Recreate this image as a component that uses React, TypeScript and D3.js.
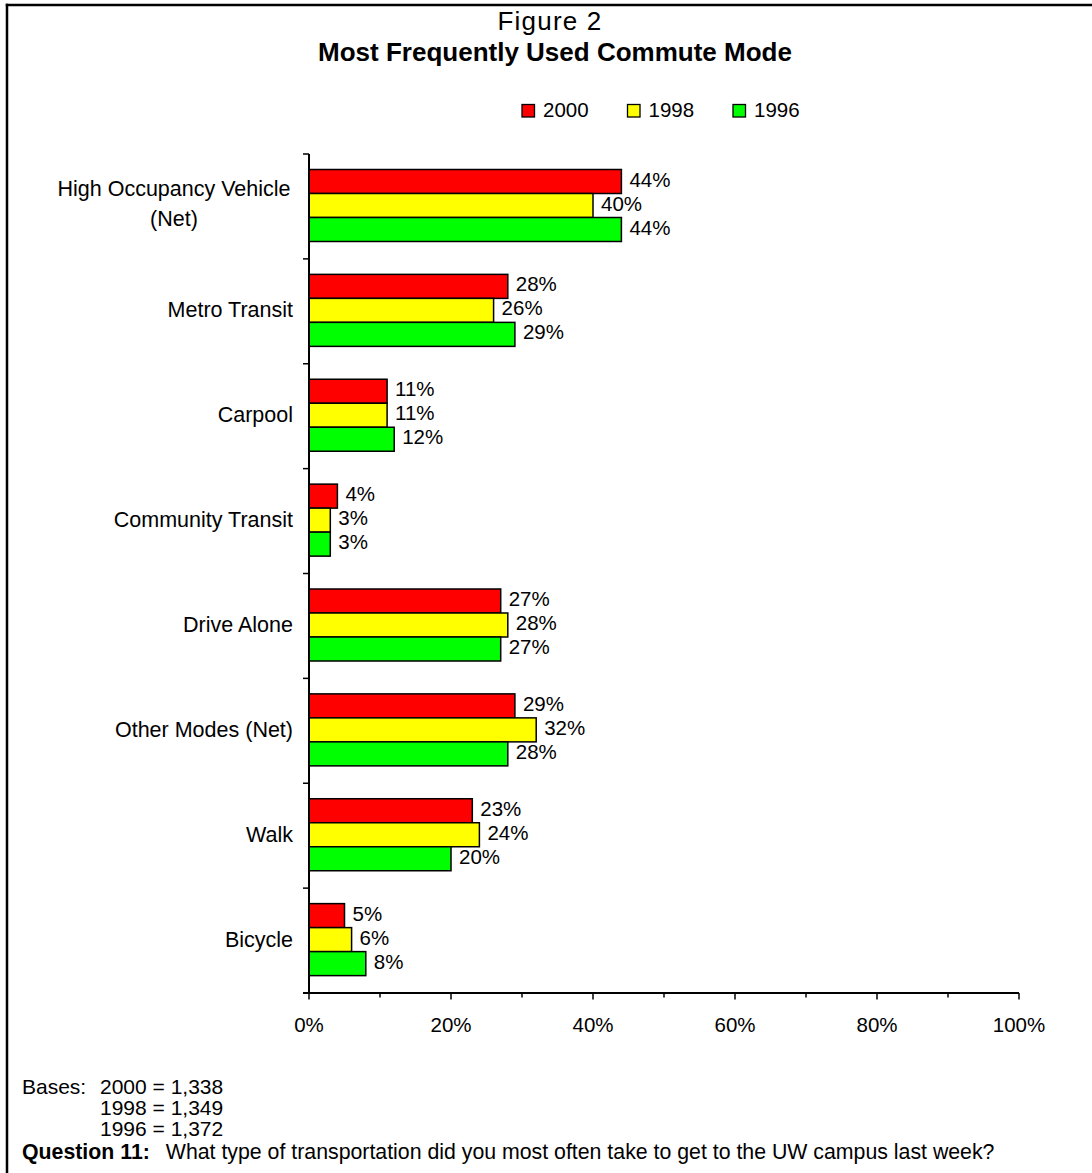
import React from "react";
import * as d3 from "d3";

const categories = [
  "High Occupancy Vehicle\n(Net)",
  "Metro Transit",
  "Carpool",
  "Community Transit",
  "Drive Alone",
  "Other Modes (Net)",
  "Walk",
  "Bicycle",
];
const seriesNames = ["2000", "1998", "1996"];
const values2000 = [44, 28, 11, 4, 27, 29, 23, 5];
const values1998 = [40, 26, 11, 3, 28, 32, 24, 6];
const values1996 = [44, 29, 12, 3, 27, 28, 20, 8];
const seriesColors = ["#ff0000", "#ffff00", "#00ff00"];
const xTicks = [0, 10, 20, 30, 40, 50, 60, 70, 80, 90, 100];
const xLabelTicks = [0, 20, 40, 60, 80, 100];
const baseLines = ["2000 = 1,338", "1998 = 1,349", "1996 = 1,372"];

const FONT = "Arial, 'Liberation Sans', Helvetica, sans-serif";

export default function App() {
  const W = 1092;
  const H = 1173;
  const seriesValues = [values2000, values1998, values1996];
  const x = d3.scaleLinear().domain([0, 100]).range([309, 1019]);
  const y = d3.scaleBand<string>().domain(categories).range([154, 993]).paddingInner(0);
  const groupH = 72;
  const inner = d3.scaleBand<string>().domain(seriesNames).range([0, groupH]).padding(0);
  const groupOffset = 15.5;
  const boundaries = d3.range(categories.length + 1).map((i) => 154 + i * y.step());

  return (
    <svg
      width={W}
      height={H}
      style={{ position: "absolute", left: 0, top: 0, background: "#fff", display: "block" }}
      fontFamily={FONT}
    >
      <rect x={0} y={0} width={W} height={H} fill="#fff" />
      {/* frame (left and top edges visible) */}
      <line x1={7} x2={7} y1={3.75} y2={H} stroke="#000" strokeWidth={2.5} />
      <line x1={5.75} x2={W} y1={5} y2={5} stroke="#000" strokeWidth={2.5} />

      {/* titles */}
      <text x={550} y={30} textAnchor="middle" fontSize={26} letterSpacing={1.2} fill="#000">
        Figure 2
      </text>
      <text x={555} y={61} textAnchor="middle" fontSize={26} fontWeight="bold" fill="#000">
        Most Frequently Used Commute Mode
      </text>

      {/* legend */}
      {seriesNames.map((s, i) => {
        const lx = 522 + i * 105.5;
        return (
          <g key={s}>
            <rect x={lx} y={104.5} width={12.5} height={12.5} fill={seriesColors[i]} stroke="#000" strokeWidth={1.3} />
            <text x={lx + 21} y={117} fontSize={20.5} fill="#000">
              {s}
            </text>
          </g>
        );
      })}

      {/* bars */}
      {categories.map((c, ci) => (
        <g key={c}>
          {seriesNames.map((s, si) => {
            const v = seriesValues[si][ci];
            const by = (y(c) as number) + groupOffset + (inner(s) as number);
            const bh = inner.bandwidth();
            return (
              <g key={s}>
                <rect
                  x={x(0)}
                  y={by}
                  width={x(v) - x(0)}
                  height={bh}
                  fill={seriesColors[si]}
                  stroke="#000"
                  strokeWidth={1.5}
                />
                <text x={x(v) + 8} y={by + bh / 2 + 5} fontSize={20.5} fill="#000">
                  {v + "%"}
                </text>
              </g>
            );
          })}
        </g>
      ))}

      {/* y axis */}
      <line x1={309} x2={309} y1={boundaries[0]} y2={993} stroke="#000" strokeWidth={2} />
      {boundaries.map((b, i) => (
        <line key={i} x1={303} x2={309} y1={b} y2={b} stroke="#000" strokeWidth={1.5} />
      ))}
      {categories.map((c) => {
        const lines = c.split("\n");
        const cy = (y(c) as number) + y.bandwidth() / 2;
        const lh = 30;
        if (lines.length === 1) {
          return (
            <text key={c} x={293} y={cy + 6} textAnchor="end" fontSize={21.5} fill="#000">
              {c}
            </text>
          );
        }
        return (
          <text key={c} x={174} textAnchor="middle" fontSize={21.5} fill="#000">
            {lines.map((l, li) => (
              <tspan key={li} x={174} y={cy + 5 + (li - (lines.length - 1) / 2) * lh}>
                {l}
              </tspan>
            ))}
          </text>
        );
      })}

      {/* x axis */}
      <line x1={303} x2={x(100)} y1={993} y2={993} stroke="#000" strokeWidth={2} />
      {xTicks.map((t) => (
        <line
          key={t}
          x1={x(t)}
          x2={x(t)}
          y1={993}
          y2={t % 20 === 0 ? 999.5 : 997.5}
          stroke="#000"
          strokeWidth={1.5}
        />
      ))}
      {xLabelTicks.map((t) => (
        <text key={t} x={x(t)} y={1032} textAnchor="middle" fontSize={20.5} fill="#000">
          {t + "%"}
        </text>
      ))}

      {/* footnotes */}
      <text x={22} y={1094} fontSize={21} fill="#000">
        Bases:
      </text>
      {baseLines.map((b, i) => (
        <text key={b} x={100} y={1094 + i * 21} fontSize={21} fill="#000">
          {b}
        </text>
      ))}
      <text x={22} y={1159} fontSize={21.3} fill="#000">
        <tspan fontWeight="bold">Question 11:</tspan>
        <tspan dx={16}>What type of transportation did you most often take to get to the UW campus last week?</tspan>
      </text>
    </svg>
  );
}
